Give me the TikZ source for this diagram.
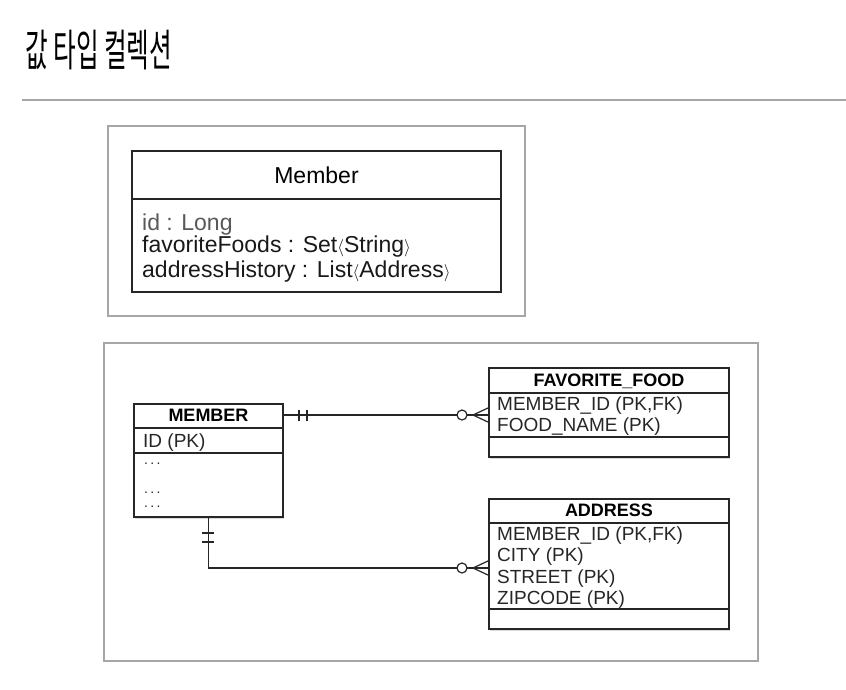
\documentclass[tikz,border=0pt]{standalone}
\usepackage{fontspec}
\usepackage{graphicx}
\setmainfont{Liberation Sans}
\newfontfamily\krfont{Noto Sans CJK KR}
\usetikzlibrary{shadows}

\newcommand{\lang}{{\fontsize{19}{20}\selectfont$\langle$}}
\newcommand{\rang}{{\fontsize{19}{20}\selectfont$\rangle$}}

\tikzset{
  frame/.style={draw=black!35, line width=1.2pt},
  umlbox/.style={draw=black!85, line width=1.5pt},
  entity/.style={draw=black!85, line width=1.6pt, fill=white,
    drop shadow={shadow xshift=1pt, shadow yshift=-1.5pt, opacity=0.3}},
  head/.style={anchor=base, inner sep=0pt, font=\fontsize{18}{20}\selectfont\bfseries},
  field/.style={anchor=base west, inner sep=0pt, font=\fontsize{19}{21}\selectfont, text=black!85},
  dots/.style={anchor=base west, inner sep=0pt, font=\fontsize{14}{15}\selectfont, text=black!85},
  attr/.style={anchor=base west, inner sep=0pt, font=\fontsize{23}{25}\selectfont, text=black!90},
  rel/.style={line width=1.2pt, draw=black!85},
}

\begin{document}
\begin{tikzpicture}[x=1pt,y=-1pt]
	\useasboundingbox (0,0) rectangle (846,689);
	% title
	\node[anchor=base west, inner sep=0pt] (title) at (25,66)
		{\scalebox{0.56}[1]{\fontsize{44}{52}\selectfont\krfont 값 타입 컬렉션}};
	\draw[black!35, line width=1.2pt] (22,100) -- (846,100);

	% class diagram
	\node[frame, minimum width=417pt, minimum height=190pt] (classframe) at (316.5,221) {};
	\node[umlbox, minimum width=369pt, minimum height=141pt] (cls) at (316.5,221.5) {};
	\draw[line width=1.5pt, black!85] (cls.west |- 0,199) -- (cls.east |- 0,199);
	\node[anchor=base, inner sep=0pt, font=\fontsize{23}{25}\selectfont] (clsname) at (316.5,183) {Member};
	\node[attr, text=black!65] (clsid) at (142,230) {id : Long};
	\node[attr] (clsfoods) at (142,252) {favoriteFoods : Set\lang String\rang};
	\node[attr] (clsaddr) at (142,277) {addressHistory : List\lang Address\rang};

	% ERD
	\node[frame, minimum width=654pt, minimum height=318pt] (erdframe) at (431,502) {};

	\node[entity, minimum width=149pt, minimum height=113pt] (member) at (208.5,460.5) {};
	\draw[line width=1.6pt, black!85] (member.west |- 0,428) -- (member.east |- 0,428);
	\draw[line width=1.6pt, black!85] (member.west |- 0,453) -- (member.east |- 0,453);
	\node[head] (memberhd) at (208.5,421.5) {MEMBER};
	\node[field] (memberid) at (143,447) {ID (PK)};
	\node[dots] (memberc1) at (144,464) {.\,.\,.};
	\node[dots] (memberc2) at (144,493) {.\,.\,.};
	\node[dots] (memberc3) at (144,507) {.\,.\,.};

	\node[entity, minimum width=240pt, minimum height=89pt] (fav) at (609,412.5) {};
	\draw[line width=1.6pt, black!85] (fav.west |- 0,393) -- (fav.east |- 0,393);
	\draw[line width=1.6pt, black!85] (fav.west |- 0,437) -- (fav.east |- 0,437);
	\node[head] (favhd) at (609,386.5) {FAVORITE\_FOOD};
	\node[field] (favid) at (497,410) {MEMBER\_ID (PK,FK)};
	\node[field] (favname) at (497,431.5) {FOOD\_NAME (PK)};

	\node[entity, minimum width=240pt, minimum height=130pt] (addr) at (609,564) {};
	\draw[line width=1.6pt, black!85] (addr.west |- 0,523) -- (addr.east |- 0,523);
	\draw[line width=1.6pt, black!85] (addr.west |- 0,609) -- (addr.east |- 0,609);
	\node[head] (addrhd) at (609,516.5) {ADDRESS};
	\node[field] (addrid) at (497,540) {MEMBER\_ID (PK,FK)};
	\node[field] (addrcity) at (497,561.5) {CITY (PK)};
	\node[field] (addrstreet) at (497,583) {STREET (PK)};
	\node[field] (addrzip) at (497,604.5) {ZIPCODE (PK)};

	% relations
	\coordinate (favend) at (fav.west |- 0,415);
	\coordinate (addrend) at (addr.west |- 0,568);
	\draw[rel] (member.east |- favend) -- (favend);
	\draw[rel] (member.south) -- (member.south |- addrend) -- (addrend);
	\draw[rel] (299,409.5) -- (299,420.5) (307,409.5) -- (307,420.5);
	\draw[rel] (202,533) -- (214,533) (202,542) -- (214,542);
	\foreach \y in {415,568} {
		\draw[rel, fill=white] (462,\y) circle (5pt);
		\draw[rel] (489,\y-7.5) -- (473,\y) -- (489,\y+7.5) (473,\y) -- (489,\y);
	}
\end{tikzpicture}
\end{document}
